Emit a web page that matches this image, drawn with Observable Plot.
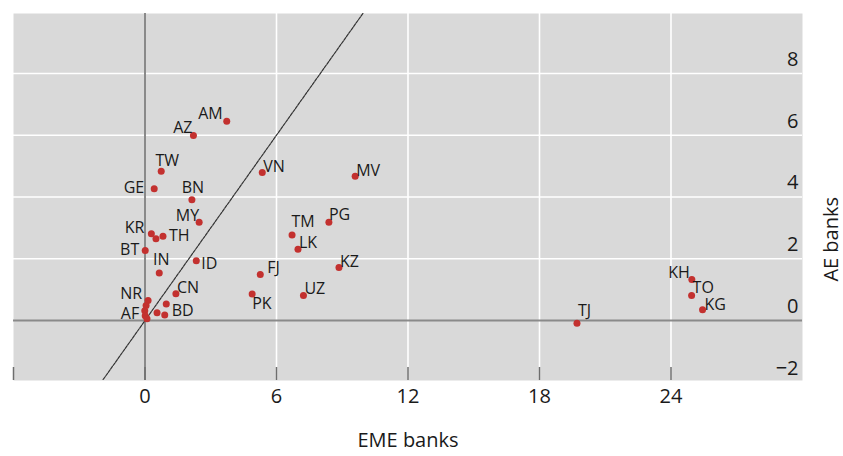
<!DOCTYPE html>
<html><head><meta charset="utf-8">
<script src="https://cdn.jsdelivr.net/npm/d3@7"></script>
<script src="https://cdn.jsdelivr.net/npm/@observablehq/plot@0.6"></script>
<style>
body{margin:0;background:#fff;}
#chart svg{display:block;}
#chart text{font-family:"Open Sans",sans-serif;fill:#1a1a1a;}
</style></head><body><div id="chart"></div>
<script>
// Country codes ("" = unlabelled point)
const codes = ["AM","AZ","TW","GE","BN","VN","MV","MY","PG","TM","LK","KR","","TH","BT","IN","ID","FJ","KZ","CN","PK","UZ","","","BD","NR","","","AF","","TJ","KH","TO","KG"];
// EME banks (x)
const emeBanks = [3.73,2.21,0.74,0.42,2.14,5.35,9.59,2.47,8.39,6.71,6.98,0.29,0.5,0.82,0.01,0.65,2.34,5.26,8.85,1.41,4.89,7.23,0.97,0.55,0.9,0.14,0.05,-0.01,0.01,0.09,19.71,24.95,24.94,25.44];
// AE banks (y)
const aeBanks = [6.45,5.99,4.83,4.27,3.91,4.79,4.67,3.18,3.18,2.77,2.31,2.81,2.65,2.73,2.27,1.54,1.94,1.49,1.72,0.87,0.86,0.81,0.54,0.25,0.18,0.65,0.49,0.32,0.16,0.06,-0.09,1.33,0.81,0.35];
const xTickLabels = [0,6,12,18,24];
const xTickMarks = [-6,0,6,12,18,24];
const yTickLabels = [-2,0,2,4,6,8];
const xGrid = [6,12,18,24];
const yGrid = [2,4,6,8];
const diagonalEnds = [-6,30];

// label placement (presentation only): [textAnchor, dx, dy]
const labelPlacement = {
  AM:["end",-4,-7], AZ:["end",-1,-7], TW:["middle",6,-10], GE:["end",-10,0],
  BN:["middle",1,-11], VN:["start",1,-5], MV:["start",1,-5], MY:["end",0,-6],
  PG:["start",0,-7], TM:["middle",11,-12], LK:["start",1,-6], KR:["end",-7,-5],
  TH:["start",6,0], BT:["end",-6,0], IN:["middle",2,-12], ID:["start",5,4],
  FJ:["start",7,-6], KZ:["start",1,-5], CN:["start",1,-5], PK:["start",0,11],
  UZ:["start",1,-6], BD:["start",7,-3], NR:["end",-6,-6], AF:["end",-6,-1],
  TJ:["start",1,-12], KH:["end",-2,-6], TO:["start",1,-7], KG:["start",2,-4]
};

const data = codes.map((c,i)=>({code:c, x:emeBanks[i], y:aeBanks[i]}));
const fmt = d => d < 0 ? "\u2212" + Math.abs(d) : String(d);

const labelMarks = data.filter(d=>d.code).map(d=>{
  const [anchor,dx,dy] = labelPlacement[d.code];
  return Plot.text([d], {x:"x", y:"y", text:"code", textAnchor:anchor, dx, dy,
    fontSize:16, lineHeight:0.85, fill:"#1a1a1a", style:"letter-spacing:0.4px"});
});

const chart = Plot.plot({
  width: 843, height: 456,
  marginLeft: 13, marginRight: 41, marginTop: 13, marginBottom: 76,
  x: {domain:[-6,30], axis:null},
  y: {domain:[-1.94,9.94], axis:null},
  style: {fontFamily:"'Open Sans', sans-serif", background:"#fff"},
  marks: [
    Plot.frame({fill:"#d9d9d9", stroke:"none"}),
    Plot.ruleX(xGrid, {stroke:"#fff", strokeWidth:1.6}),
    Plot.ruleY(yGrid, {stroke:"#fff", strokeWidth:1.6}),
    Plot.ruleX([0], {stroke:"#8a8a8a", strokeWidth:2}),
    Plot.ruleY([0], {stroke:"#8a8a8a", strokeWidth:2}),
    Plot.ruleX(xTickMarks, {stroke:"#6e6e6e", strokeWidth:1.5, insetTop:354}),
    Plot.line(diagonalEnds.map(v=>[v,v]), {stroke:"#333", strokeWidth:1.2, strokeDasharray:"3,1.2", clip:true}),
    Plot.dot(data, {x:"x", y:"y", r:3.5, fill:"#c3312f", stroke:"none"}),
    ...labelMarks,
    Plot.text(yTickLabels, {y:d=>d, text:fmt, frameAnchor:"right", textAnchor:"end", dx:-4, dy:-14,
      fontSize:20, style:"letter-spacing:1.5px"}),
    Plot.text(xTickLabels, {x:d=>d, text:fmt, frameAnchor:"bottom", dy:22,
      fontSize:20, style:"letter-spacing:1.5px"}),
    Plot.text(["EME banks"], {frameAnchor:"bottom", dy:66, fontSize:20, style:"letter-spacing:3px"}),
    Plot.text(["AE banks"], {frameAnchor:"right", rotate:-90, dx:29, fontSize:20, style:"letter-spacing:2px"})
  ]
});
document.getElementById("chart").appendChild(chart);
</script></body></html>
